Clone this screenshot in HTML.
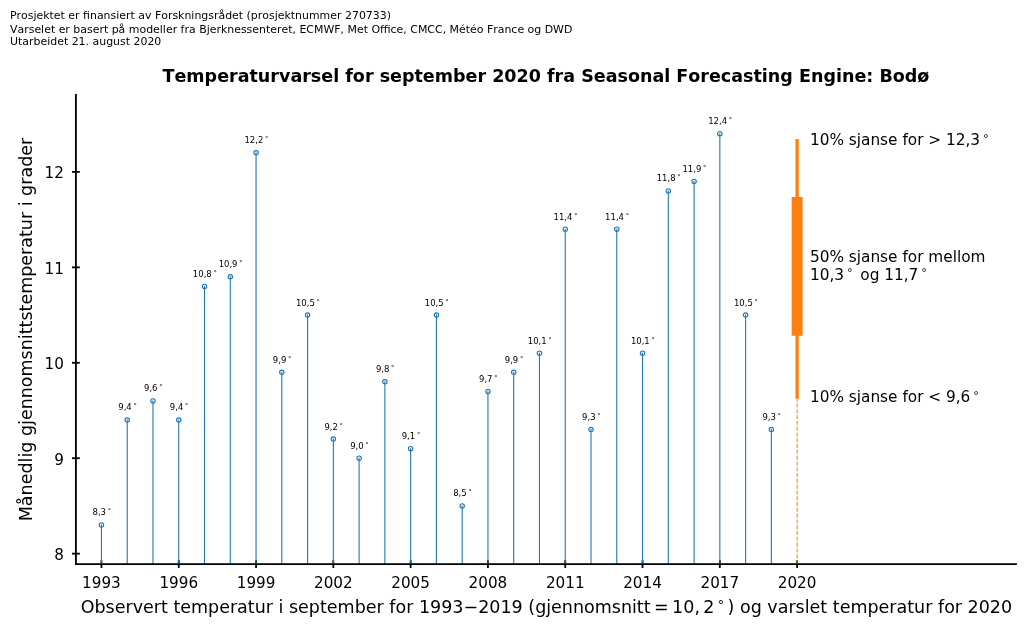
<!DOCTYPE html>
<html lang="no">
<head>
<meta charset="utf-8">
<title>Temperaturvarsel for september 2020 fra Seasonal Forecasting Engine: Bodø</title>
<style>
html,body{margin:0;padding:0;background:#fff;}
body{width:1024px;height:627px;overflow:hidden;}
svg{display:block;}
svg text{font-family:"DejaVu Sans","Liberation Sans",sans-serif;fill:#000;white-space:pre;font-kerning:none;}
</style>
</head>
<body>
<svg width="1024" height="627" viewBox="0 0 1024 627">
<rect width="1024" height="627" fill="#fff"/>
<text x="10" y="19" font-size="10.94">Prosjektet er finansiert av Forskningsrådet (prosjektnummer 270733)</text>
<text x="10" y="32.7" font-size="10.94">Varselet er basert på modeller fra Bjerknessenteret, ECMWF, Met Office, CMCC, Météo France og DWD</text>
<text x="10" y="45.1" font-size="10.94">Utarbeidet 21. august 2020</text>
<text x="545.95" y="81.95" font-size="17.52" font-weight="bold" text-anchor="middle">Temperaturvarsel for september 2020 fra Seasonal Forecasting Engine: Bodø</text>
<g stroke="#000" stroke-width="1.8" fill="none">
<line x1="101.45" y1="560.15" x2="101.45" y2="567.95"/>
<line x1="178.75" y1="560.15" x2="178.75" y2="567.95"/>
<line x1="256.05" y1="560.15" x2="256.05" y2="567.95"/>
<line x1="333.34" y1="560.15" x2="333.34" y2="567.95"/>
<line x1="410.64" y1="560.15" x2="410.64" y2="567.95"/>
<line x1="487.94" y1="560.15" x2="487.94" y2="567.95"/>
<line x1="565.24" y1="560.15" x2="565.24" y2="567.95"/>
<line x1="642.54" y1="560.15" x2="642.54" y2="567.95"/>
<line x1="719.83" y1="560.15" x2="719.83" y2="567.95"/>
<line x1="797.13" y1="560.15" x2="797.13" y2="567.95"/>
<line x1="72" y1="553.65" x2="79.8" y2="553.65"/>
<line x1="72" y1="458.21" x2="79.8" y2="458.21"/>
<line x1="72" y1="362.77" x2="79.8" y2="362.77"/>
<line x1="72" y1="267.33" x2="79.8" y2="267.33"/>
<line x1="72" y1="171.89" x2="79.8" y2="171.89"/>
</g>
<line x1="797.13" y1="564.05" x2="797.13" y2="399.04" stroke="#ff7f0e" stroke-opacity="0.95" stroke-width="1.09" stroke-dasharray="4.05 1.75"/>
<g stroke="#1f77b4" stroke-opacity="1" stroke-width="1.09" fill="none">
<line x1="101.45" y1="564.05" x2="101.45" y2="524.52"/>
<line x1="127.22" y1="564.05" x2="127.22" y2="419.53"/>
<line x1="152.98" y1="564.05" x2="152.98" y2="400.45"/>
<line x1="178.75" y1="564.05" x2="178.75" y2="419.53"/>
<line x1="204.51" y1="564.05" x2="204.51" y2="285.92"/>
<line x1="230.28" y1="564.05" x2="230.28" y2="276.37"/>
<line x1="256.05" y1="564.05" x2="256.05" y2="152.3"/>
<line x1="281.81" y1="564.05" x2="281.81" y2="371.81"/>
<line x1="307.58" y1="564.05" x2="307.58" y2="314.55"/>
<line x1="333.34" y1="564.05" x2="333.34" y2="438.62"/>
<line x1="359.11" y1="564.05" x2="359.11" y2="457.71"/>
<line x1="384.88" y1="564.05" x2="384.88" y2="381.36"/>
<line x1="410.64" y1="564.05" x2="410.64" y2="448.17"/>
<line x1="436.41" y1="564.05" x2="436.41" y2="314.55"/>
<line x1="462.17" y1="564.05" x2="462.17" y2="505.43"/>
<line x1="487.94" y1="564.05" x2="487.94" y2="390.9"/>
<line x1="513.71" y1="564.05" x2="513.71" y2="371.81"/>
<line x1="539.47" y1="564.05" x2="539.47" y2="352.73"/>
<line x1="565.24" y1="564.05" x2="565.24" y2="228.65"/>
<line x1="591" y1="564.05" x2="591" y2="429.08"/>
<line x1="616.77" y1="564.05" x2="616.77" y2="228.65"/>
<line x1="642.54" y1="564.05" x2="642.54" y2="352.73"/>
<line x1="668.3" y1="564.05" x2="668.3" y2="190.48"/>
<line x1="694.07" y1="564.05" x2="694.07" y2="180.93"/>
<line x1="719.83" y1="564.05" x2="719.83" y2="133.21"/>
<line x1="745.6" y1="564.05" x2="745.6" y2="314.55"/>
<line x1="771.37" y1="564.05" x2="771.37" y2="429.08"/>
</g>
<g stroke="#1f77b4" stroke-width="1.1" fill="none">
<circle cx="101.45" cy="525.02" r="2.2"/>
<circle cx="127.22" cy="420.03" r="2.2"/>
<circle cx="152.98" cy="400.95" r="2.2"/>
<circle cx="178.75" cy="420.03" r="2.2"/>
<circle cx="204.51" cy="286.42" r="2.2"/>
<circle cx="230.28" cy="276.87" r="2.2"/>
<circle cx="256.05" cy="152.8" r="2.2"/>
<circle cx="281.81" cy="372.31" r="2.2"/>
<circle cx="307.58" cy="315.05" r="2.2"/>
<circle cx="333.34" cy="439.12" r="2.2"/>
<circle cx="359.11" cy="458.21" r="2.2"/>
<circle cx="384.88" cy="381.86" r="2.2"/>
<circle cx="410.64" cy="448.67" r="2.2"/>
<circle cx="436.41" cy="315.05" r="2.2"/>
<circle cx="462.17" cy="505.93" r="2.2"/>
<circle cx="487.94" cy="391.4" r="2.2"/>
<circle cx="513.71" cy="372.31" r="2.2"/>
<circle cx="539.47" cy="353.23" r="2.2"/>
<circle cx="565.24" cy="229.15" r="2.2"/>
<circle cx="591" cy="429.58" r="2.2"/>
<circle cx="616.77" cy="229.15" r="2.2"/>
<circle cx="642.54" cy="353.23" r="2.2"/>
<circle cx="668.3" cy="190.98" r="2.2"/>
<circle cx="694.07" cy="181.43" r="2.2"/>
<circle cx="719.83" cy="133.71" r="2.2"/>
<circle cx="745.6" cy="315.05" r="2.2"/>
<circle cx="771.37" cy="429.58" r="2.2"/>
</g>
<g font-size="8.49">
<text><tspan x="92.5" y="515">8,3</tspan><tspan x="107.7" y="513" font-size="6.62">°</tspan></text>
<text><tspan x="118.27" y="410">9,4</tspan><tspan x="133.46" y="408" font-size="6.62">°</tspan></text>
<text><tspan x="144.03" y="391">9,6</tspan><tspan x="159.23" y="389" font-size="6.62">°</tspan></text>
<text><tspan x="169.8" y="410">9,4</tspan><tspan x="184.99" y="408" font-size="6.62">°</tspan></text>
<text><tspan x="192.87" y="277">10,8</tspan><tspan x="213.46" y="275" font-size="6.62">°</tspan></text>
<text><tspan x="218.63" y="267">10,9</tspan><tspan x="239.23" y="265" font-size="6.62">°</tspan></text>
<text><tspan x="244.4" y="143">12,2</tspan><tspan x="264.99" y="141" font-size="6.62">°</tspan></text>
<text><tspan x="272.86" y="363">9,9</tspan><tspan x="288.06" y="361" font-size="6.62">°</tspan></text>
<text><tspan x="295.93" y="306">10,5</tspan><tspan x="316.52" y="304" font-size="6.62">°</tspan></text>
<text><tspan x="324.39" y="430">9,2</tspan><tspan x="339.59" y="428" font-size="6.62">°</tspan></text>
<text><tspan x="350.16" y="449">9,0</tspan><tspan x="365.36" y="447" font-size="6.62">°</tspan></text>
<text><tspan x="375.93" y="372">9,8</tspan><tspan x="391.12" y="370" font-size="6.62">°</tspan></text>
<text><tspan x="401.69" y="439">9,1</tspan><tspan x="416.89" y="437" font-size="6.62">°</tspan></text>
<text><tspan x="424.76" y="306">10,5</tspan><tspan x="445.35" y="304" font-size="6.62">°</tspan></text>
<text><tspan x="453.22" y="496">8,5</tspan><tspan x="468.42" y="494" font-size="6.62">°</tspan></text>
<text><tspan x="478.99" y="382">9,7</tspan><tspan x="494.19" y="380" font-size="6.62">°</tspan></text>
<text><tspan x="504.76" y="363">9,9</tspan><tspan x="519.95" y="361" font-size="6.62">°</tspan></text>
<text><tspan x="527.82" y="344">10,1</tspan><tspan x="548.42" y="342" font-size="6.62">°</tspan></text>
<text><tspan x="553.59" y="220">11,4</tspan><tspan x="574.18" y="218" font-size="6.62">°</tspan></text>
<text><tspan x="582.05" y="420">9,3</tspan><tspan x="597.25" y="418" font-size="6.62">°</tspan></text>
<text><tspan x="605.12" y="220">11,4</tspan><tspan x="625.72" y="218" font-size="6.62">°</tspan></text>
<text><tspan x="630.89" y="344">10,1</tspan><tspan x="651.48" y="342" font-size="6.62">°</tspan></text>
<text><tspan x="656.65" y="181">11,8</tspan><tspan x="677.25" y="179" font-size="6.62">°</tspan></text>
<text><tspan x="682.42" y="172">11,9</tspan><tspan x="703.01" y="170" font-size="6.62">°</tspan></text>
<text><tspan x="708.19" y="124">12,4</tspan><tspan x="728.78" y="122" font-size="6.62">°</tspan></text>
<text><tspan x="733.95" y="306">10,5</tspan><tspan x="754.55" y="304" font-size="6.62">°</tspan></text>
<text><tspan x="762.42" y="420">9,3</tspan><tspan x="777.61" y="418" font-size="6.62">°</tspan></text>
</g>
<line x1="797.13" y1="139.06" x2="797.13" y2="398.85" stroke="#ff7f0e" stroke-width="3.28"/>
<line x1="797.13" y1="196.99" x2="797.13" y2="335.86" stroke="#ff7f0e" stroke-width="10.94"/>
<g font-size="15.32">
<text><tspan x="809.9" y="145.4">10% sjanse for &gt; 12,3</tspan><tspan x="983.09" y="141.93" font-size="11.33">°</tspan></text>
<text><tspan x="809.9" y="261.9">50% sjanse for mellom</tspan></text>
<text><tspan x="809.9" y="279.6">10,3</tspan><tspan x="846.95" y="276.13" font-size="11.33">°</tspan><tspan x="860.32" y="279.6">og 11,7</tspan><tspan x="921.34" y="276.13" font-size="11.33">°</tspan></text>
<text><tspan x="809.9" y="402.1">10% sjanse for &lt; 9,6</tspan><tspan x="973.35" y="399.33" font-size="11.33">°</tspan></text>
</g>
<g stroke="#000" stroke-width="1.85" stroke-linecap="square" fill="none">
<line x1="75.9" y1="95" x2="75.9" y2="564.05"/>
<line x1="75.9" y1="564.05" x2="1016" y2="564.05"/>
</g>
<g font-size="15.19">
<g text-anchor="middle">
<text x="101.45" y="587.5">1993</text>
<text x="178.75" y="587.5">1996</text>
<text x="256.05" y="587.5">1999</text>
<text x="333.34" y="587.5">2002</text>
<text x="410.64" y="587.5">2005</text>
<text x="487.94" y="587.5">2008</text>
<text x="565.24" y="587.5">2011</text>
<text x="642.54" y="587.5">2014</text>
<text x="719.83" y="587.5">2017</text>
<text x="797.13" y="587.5">2020</text>
</g>
<g text-anchor="end">
<text x="63.8" y="560.05">8</text>
<text x="63.8" y="464.61">9</text>
<text x="63.8" y="369.17">10</text>
<text x="63.8" y="273.73">11</text>
<text x="63.8" y="178.29">12</text>
</g>
</g>
<text font-size="17.5"><tspan x="80.68" y="612.75">Observert temperatur i september for 1993</tspan><tspan x="463.54" y="612.75">−</tspan><tspan x="478.21" y="612.75">2019 (gjennomsnitt</tspan><tspan x="654.04" y="612.75">=</tspan><tspan x="672.12" y="612.75">10</tspan><tspan x="694.39" y="612.75">,</tspan><tspan x="703.37" y="612.75">2</tspan><tspan x="717.85" y="609.48" font-size="12.6">°</tspan><tspan x="727.59" y="612.75">) og varslet temperatur for 2020</tspan></text>
<text transform="translate(32.25 329.52) rotate(-90)" font-size="17.5" text-anchor="middle">Månedlig gjennomsnittstemperatur i grader</text>
</svg>
</body>
</html>
